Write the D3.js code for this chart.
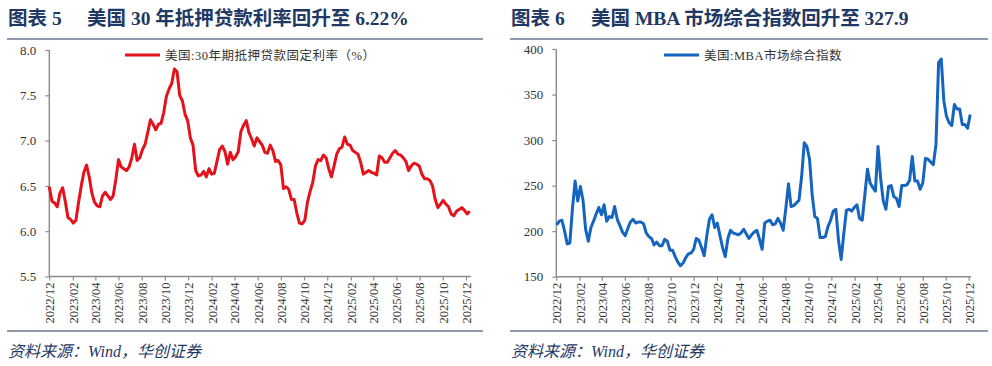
<!DOCTYPE html>
<html>
<head>
<meta charset="utf-8">
<script src="https://cdn.jsdelivr.net/npm/d3@7"></script>
<style>
  body { margin: 0; background: #fff; }
  svg text { font-family: "Liberation Serif", "Noto Sans CJK SC", serif; }
</style>
</head>
<body>
<div id="chart"></div>
<script>
// month ticks shared by both panels (every 2 months)
var monthTicks = ["2022/12", "2023/02", "2023/04", "2023/06", "2023/08", "2023/10", "2023/12",
  "2024/02", "2024/04", "2024/06", "2024/08", "2024/10", "2024/12",
  "2025/02", "2025/04", "2025/06", "2025/08", "2025/10", "2025/12"];

// 30-year fixed mortgage rate, weekly (Thursdays) from 2022-12-01
var rateStart = "2022-12-01";
var rateValues = [
  6.49, 6.33, 6.31, 6.27, 6.42,
  6.48, 6.33, 6.15, 6.13, 6.09, 6.12, 6.32, 6.50, 6.65, 6.73, 6.60, 6.42, 6.32,
  6.28, 6.27, 6.39, 6.43, 6.39, 6.35, 6.39, 6.57, 6.79, 6.71, 6.69, 6.67, 6.71,
  6.81, 6.96, 6.78, 6.81, 6.90, 6.96, 7.09, 7.23, 7.18, 7.12, 7.18, 7.19, 7.31,
  7.49, 7.57, 7.63, 7.79, 7.76, 7.50, 7.44, 7.29, 7.22, 7.03, 6.95, 6.67, 6.61,
  6.62, 6.66, 6.60, 6.69, 6.63, 6.64, 6.77, 6.90, 6.94, 6.88, 6.74, 6.87, 6.79,
  6.82, 6.88, 7.10, 7.17, 7.22, 7.09, 7.02, 6.94, 7.03, 6.99, 6.95, 6.87, 6.86,
  6.95, 6.89, 6.77, 6.78, 6.73, 6.47, 6.49, 6.46, 6.35, 6.35, 6.20, 6.09, 6.08,
  6.12, 6.32, 6.44, 6.54, 6.72, 6.79, 6.78, 6.84, 6.81, 6.69, 6.60, 6.72, 6.85,
  6.91, 6.93, 7.04, 6.96, 6.95, 6.89, 6.87, 6.85, 6.76, 6.63, 6.65, 6.67, 6.65,
  6.64, 6.62, 6.83, 6.81, 6.76, 6.76, 6.81, 6.86, 6.89, 6.85, 6.84, 6.81, 6.77,
  6.67, 6.72, 6.75, 6.74, 6.72, 6.63, 6.58, 6.58, 6.56, 6.50, 6.35, 6.26, 6.30,
  6.34, 6.30, 6.27, 6.19, 6.17, 6.22, 6.24, 6.26, 6.23, 6.19, 6.22
];
var rateTicks = [5.5, 6.0, 6.5, 7.0, 7.5, 8.0];

// MBA composite index, weekly (week ending Fridays) from 2022-12-02
var mbaStart = "2022-12-02";
var mbaValues = [
  207, 211, 212, 200, 186, 187, 225, 255, 233, 249, 234, 202, 189, 204, 211, 219,
  226, 218, 229, 211, 216, 215, 227, 213, 206, 199, 195, 203, 210, 213, 209, 210,
  210, 208, 198, 194, 192, 185, 188, 184, 184, 191, 189, 179, 179, 172, 166, 162,
  165, 171, 175, 176, 180, 192, 190, 182, 173, 195, 213, 218, 204, 209, 195, 182,
  172, 192, 201, 198, 197, 196, 198, 202, 197, 192, 196, 199, 201, 191, 180, 209,
  211, 212, 207, 208, 214, 209, 201, 225, 252, 227, 228, 231, 234, 260, 297, 293,
  279, 240, 216, 214, 193, 193, 194, 205, 212, 222, 224, 190, 169, 197, 223, 224,
  222, 226, 229, 214, 212, 240, 268, 253, 248, 244, 293, 258, 233, 224, 249, 250,
  238, 236, 227, 250, 250, 251, 256, 282, 255, 255, 246, 253, 280, 279, 276, 273,
  295, 385, 389, 343, 326, 319, 316, 339, 334, 334, 317, 317, 313, 328
];
var mbaTicks = [150, 200, 250, 300, 350, 400];

var width = 992, height = 366;
var navy = "#1f3864";
var parseTick = d3.utcParse("%Y/%m");
var parseDay = d3.utcParse("%Y-%m-%d");

var svg = d3.select("#chart").append("svg").attr("width", width).attr("height", height);

function weekly(start, values) {
  var s = parseDay(start);
  return values.map(function (v, i) {
    return { date: d3.utcDay.offset(s, 7 * i), value: v };
  });
}

function drawPanel(p) {
  var g = svg.append("g");

  // title
  g.append("text").attr("x", p.left).attr("y", 25)
    .attr("font-size", 19.5).attr("font-weight", "bold").attr("fill", navy)
    .text(p.figNo);
  g.append("text").attr("x", p.titleX).attr("y", 25)
    .attr("font-size", 19.5).attr("font-weight", "bold").attr("fill", navy)
    .text(p.title);

  // rules above and below the plot
  g.append("line").attr("x1", p.ruleX1).attr("x2", p.ruleX2).attr("y1", 39).attr("y2", 39)
    .attr("stroke", navy).attr("stroke-width", 1.2);
  g.append("line").attr("x1", p.ruleX1).attr("x2", p.ruleX2).attr("y1", 331).attr("y2", 331)
    .attr("stroke", navy).attr("stroke-width", 1.2);

  // source
  g.append("text").attr("x", p.left).attr("y", 357)
    .attr("font-size", 16).attr("font-style", "italic").attr("fill", navy)
    .text("资料来源：Wind，华创证券");

  var tickDates = monthTicks.map(parseTick);
  var x = d3.scaleUtc()
    .domain([tickDates[0], tickDates[tickDates.length - 1]])
    .range([p.x0, p.x1]);
  var y = d3.scaleLinear()
    .domain([p.yTicks[0], p.yTicks[p.yTicks.length - 1]])
    .range([p.yBottom, p.yTop]);

  var data = weekly(p.start, p.values);
  var xEnd = Math.max(p.x1, x(data[data.length - 1].date)) + 1;

  // y axis
  var ya = g.append("g").attr("transform", "translate(" + p.x0 + ",0)")
    .call(d3.axisLeft(y).tickValues(p.yTicks).tickFormat(p.fmt).tickSize(4).tickSizeOuter(0).tickPadding(9));
  ya.select(".domain").remove();
  ya.selectAll("line").attr("stroke", "#8c8c8c").attr("stroke-width", 1.2);
  ya.selectAll("text").attr("font-size", 13).attr("fill", "#333")
    .style("font-family", "'Liberation Serif', serif");
  g.append("line").attr("x1", p.x0).attr("x2", p.x0).attr("y1", p.yTop).attr("y2", p.yBottom)
    .attr("stroke", "#8c8c8c").attr("stroke-width", 1.4);

  // x axis
  var xa = g.append("g").attr("transform", "translate(0," + p.yBottom + ")")
    .call(d3.axisBottom(x).tickValues(tickDates).tickFormat(d3.utcFormat("%Y/%m")).tickSize(4).tickSizeOuter(0));
  xa.select(".domain").remove();
  xa.selectAll("line").attr("stroke", "#8c8c8c").attr("stroke-width", 1.2);
  xa.selectAll("text")
    .attr("transform", "rotate(-90)")
    .attr("x", -6).attr("y", 0).attr("dy", "0.35em")
    .attr("text-anchor", "end")
    .attr("font-size", 12.5).attr("fill", "#333")
    .style("font-family", "'Liberation Serif', serif");
  g.append("line").attr("x1", p.x0).attr("x2", xEnd).attr("y1", p.yBottom).attr("y2", p.yBottom)
    .attr("stroke", "#8c8c8c").attr("stroke-width", 1.4);

  // series line
  var line = d3.line()
    .x(function (d) { return x(d.date); })
    .y(function (d) { return y(d.value); });
  g.append("path").datum(data)
    .attr("d", line)
    .attr("fill", "none")
    .attr("stroke", p.color)
    .attr("stroke-width", 3)
    .attr("stroke-linejoin", "round");

  // legend
  g.append("line").attr("x1", p.legX).attr("x2", p.legX + 35).attr("y1", 55).attr("y2", 55)
    .attr("stroke", p.color).attr("stroke-width", 3);
  g.append("text").attr("x", p.legX + 40).attr("y", 59.5)
    .attr("font-size", 12.5).attr("letter-spacing", 0.5).attr("fill", "#333")
    .text(p.legend);
}

drawPanel({
  figNo: "图表 5", title: "美国 30 年抵押贷款利率回升至 6.22%",
  left: 8, titleX: 87, ruleX1: 7, ruleX2: 483,
  x0: 49.3, x1: 466, yTop: 50, yBottom: 276.5,
  yTicks: rateTicks, fmt: d3.format(".1f"),
  start: rateStart, values: rateValues,
  color: "#e3121b", legX: 125, legend: "美国:30年期抵押贷款固定利率（%）"
});

drawPanel({
  figNo: "图表 6", title: "美国 MBA 市场综合指数回升至 327.9",
  left: 511, titleX: 591, ruleX1: 510, ruleX2: 988,
  x0: 556.3, x1: 968.7, yTop: 49, yBottom: 276.7,
  yTicks: mbaTicks, fmt: d3.format("d"),
  start: mbaStart, values: mbaValues,
  color: "#1565c0", legX: 664, legend: "美国:MBA市场综合指数"
});
</script>
</body>
</html>
